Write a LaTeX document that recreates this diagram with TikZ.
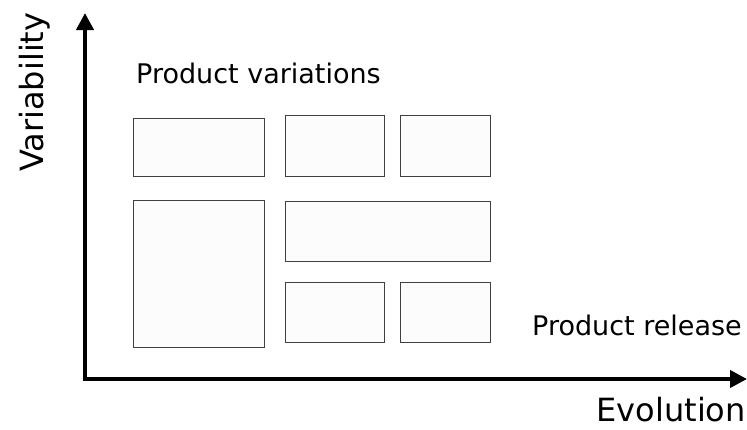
\documentclass[tikz,border=0pt]{standalone}
\usepackage{fontspec}
\setmainfont{DejaVu Sans}
\usetikzlibrary{arrows.meta}
\begin{document}
\begin{tikzpicture}[x=1pt, y=-1pt,
    box/.style={draw=black!75, line width=1pt, fill=black!1, anchor=north west, inner sep=0pt},
    axis/.style={line width=4pt, line join=miter, {Triangle[width=17pt,length=17pt]}-{Triangle[width=17pt,length=17pt]}},
    txt/.style={font=\fontsize{27}{31}\selectfont, inner sep=0pt},
    axistxt/.style={font=\fontsize{32}{37}\selectfont, inner sep=0pt}]
  % Fix the canvas to the size of the picture
  \useasboundingbox (0,0) rectangle (747,429);

  % Draw the axes
  \coordinate (origin) at (85,379);
  \coordinate (ytop) at (85,13);
  \coordinate (xend) at (747,379);
  \draw[axis] (ytop) -- (origin) -- (xend);
  \node[axistxt, rotate=90, anchor=base west] (variability) at (43,172) {Variability};
  \node[axistxt, anchor=base east] (evolution) at (746,421) {Evolution};

  % Draw the boxes: name/left/top/width/height
  \foreach \name/\x/\y/\w/\h in {ba/133/118/131/58, bb/285/115/99/61, bc/400/115/90/61,
                                 bd/133/200/131/147, be/285/201/205/60,
                                 bf/285/282/99/60, bg/400/282/90/60} {
    \node[box, minimum width=\w pt, minimum height=\h pt] (\name) at (\x,\y) {};
  }

  % Add the texts
  \node[txt, anchor=base west] (variations) at (136,83) {Product variations};
  \node[txt, anchor=base west] (release) at (532,335) {Product release};
\end{tikzpicture}
\end{document}
